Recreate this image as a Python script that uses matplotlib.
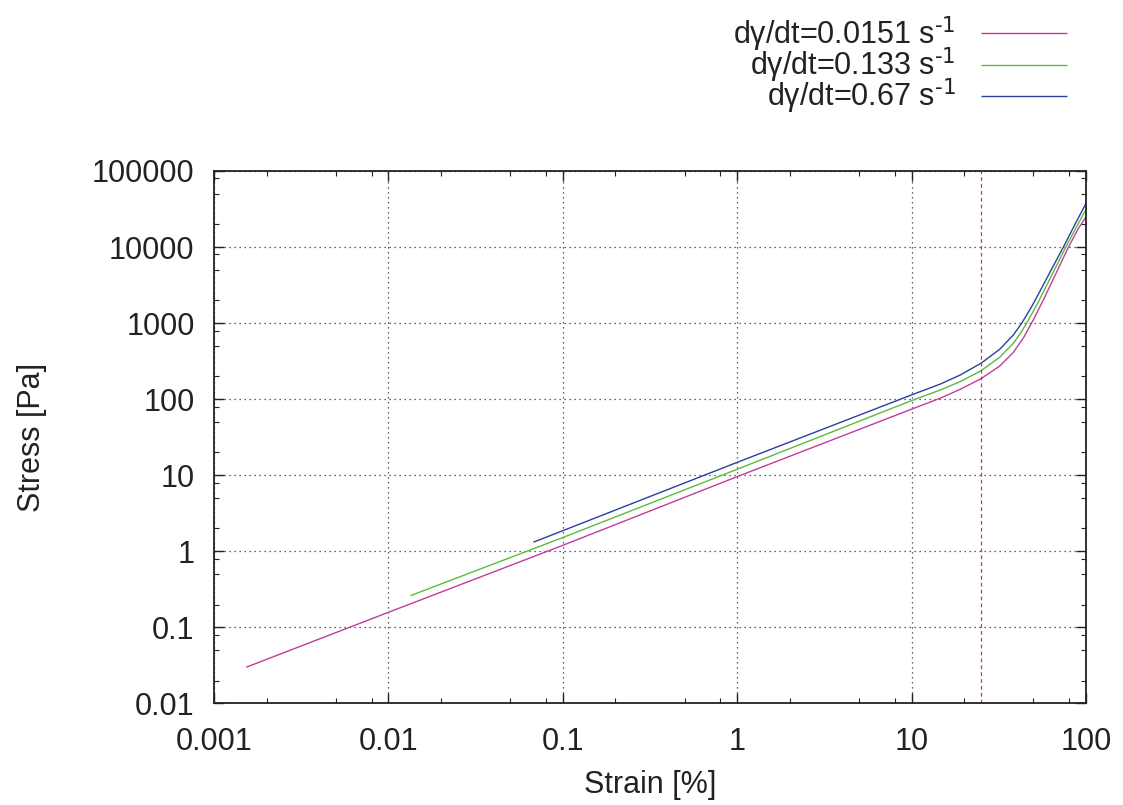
import matplotlib
matplotlib.use('Agg')
import matplotlib.pyplot as plt
from matplotlib.ticker import LogLocator, FuncFormatter, NullFormatter

plt.rcParams['font.family'] = ['Liberation Sans', 'DejaVu Sans']
plt.rcParams['mathtext.default'] = 'regular'

# ---- data ----
labels = [r'dγ/dt=0.0151 s$^{\text{-1}}$', r'dγ/dt=0.133 s$^{\text{-1}}$', r'dγ/dt=0.67 s$^{\text{-1}}$']
colors = ['#c23c9e', '#5cba3c', '#2b409c']

strain_0151 = [0.00153, 0.01, 0.1, 1, 10, 14.6, 19, 25, 32, 38.3, 44, 50, 58, 68, 79, 90, 100]
stress_0151 = [0.030, 0.158, 1.20, 9.6, 74, 103, 135, 186, 273, 412, 653, 1117, 2200, 4740, 9800, 17200, 25000]

strain_0133 = [0.0134, 0.1, 1, 10, 14.6, 19, 25, 32, 38.3, 42, 45.7, 52.8, 63, 76.6, 88, 100]
stress_0133 = [0.262, 1.52, 12.0, 96, 132, 170, 237, 356, 543, 730, 1000, 1820, 4080, 10000, 18200, 31400]

strain_067 = [0.0678, 0.1, 1, 10, 14.6, 19, 25, 32, 38.3, 42.8, 48.9, 54.5, 63, 74.2, 88, 100]
stress_067 = [1.32, 1.87, 14.8, 114, 158, 208, 297, 453, 698, 1000, 1660, 2640, 4950, 10000, 21500, 37600]

marker_strain = 25

x_ticks = [0.001, 0.01, 0.1, 1, 10, 100]
y_ticks = [0.01, 0.1, 1, 10, 100, 1000, 10000, 100000]

# ---- figure ----
fig = plt.figure(figsize=(11.23, 8.05), dpi=100)
ax = fig.add_axes([0.19057, 0.12609, 0.77648, 0.66149])

series = [(strain_0151, stress_0151), (strain_0133, stress_0133), (strain_067, stress_067)]
for (sx, sy), lab, col in zip(series, labels, colors):
    ax.plot(sx, sy, color=col, lw=1.0, label=lab, solid_capstyle='butt', solid_joinstyle='round')

ax.axvline(marker_strain, color='#e0303c', lw=0.9, ls=(0, (3, 2.5)))

ax.set_xscale('log')
ax.set_yscale('log')
ax.set_xlim(x_ticks[0], x_ticks[-1])
ax.set_ylim(y_ticks[0], y_ticks[-1])

ax.xaxis.set_major_locator(LogLocator(base=10, numticks=20))
ax.yaxis.set_major_locator(LogLocator(base=10, numticks=20))
ax.xaxis.set_minor_locator(LogLocator(base=10, subs=[2, 5, 8], numticks=20))
ax.yaxis.set_minor_locator(LogLocator(base=10, subs=[2, 5, 8], numticks=20))
fmt = FuncFormatter(lambda v, p: '%g' % v)
ax.xaxis.set_major_formatter(fmt)
ax.yaxis.set_major_formatter(fmt)
ax.xaxis.set_minor_formatter(NullFormatter())
ax.yaxis.set_minor_formatter(NullFormatter())

ax.tick_params(which='both', direction='in', top=True, right=True, colors='#222222')
ax.tick_params(which='major', length=7, width=1.0, labelsize=22, labelcolor='#222222')
ax.tick_params(axis='x', which='major', pad=17)
ax.tick_params(axis='y', which='major', pad=14)
ax.tick_params(which='minor', length=3.6, width=0.8)
for sp in ax.spines.values():
    sp.set_linewidth(1.3)
    sp.set_color('#222222')

ax.grid(True, which='major', color='#333333', lw=0.9, ls=(0, (1, 3)))

ax.set_xlabel('Strain [%]', fontsize=22, color='#222222', labelpad=9)
ax.set_ylabel('Stress [Pa]', fontsize=22, color='#222222', labelpad=32)

fig.legend(loc='upper right', bbox_to_anchor=(0.9501, 0.9825), frameon=False,
           fontsize=22, markerfirst=False, handlelength=2.8, handletextpad=0.85,
           labelspacing=-0.27, borderpad=0, borderaxespad=0, labelcolor='#222222')

fig.savefig('out.png', dpi=100)
